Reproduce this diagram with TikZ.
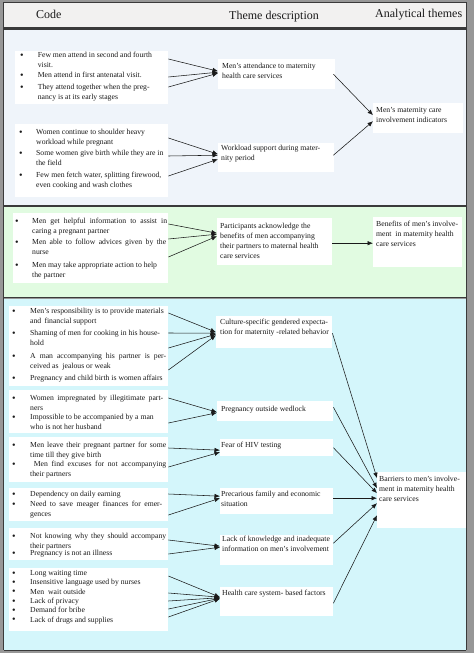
\documentclass[tikz,border=0pt]{standalone}
\usepackage{fontspec}
\setmainfont{Liberation Serif}
\usetikzlibrary{arrows.meta}
\definecolor{framegray}{HTML}{979797}
\definecolor{darkline}{HTML}{3A3A3A}
\definecolor{headbg}{HTML}{F2F1F0}
\definecolor{secone}{HTML}{EFF4FA}
\definecolor{sectwo}{HTML}{E1FBE1}
\definecolor{secthree}{HTML}{D4F6FB}
\definecolor{ink}{HTML}{1A1A1A}
\newcommand{\bul}[2]{\makebox[#1pt][l]{\raisebox{-0.4pt}{\fontsize{10}{10}\selectfont\textbullet}}\begin{tabular}[t]{@{}l@{}}#2\end{tabular}}
\newcommand{\jl}[2]{\makebox[#1pt][s]{#2}}
\newcommand{\tl}[1]{\begin{tabular}[t]{@{}l@{}}#1\end{tabular}}
\newcommand{\wbox}[5]{\node[wb, anchor=north west, minimum width=#4pt, minimum height=#5pt] (#1) at (#2,#3) {};}
\begin{document}
\begin{tikzpicture}[x=1pt,y=-1pt,
  wb/.style={fill=white, draw=none, inner sep=0pt},
  itm/.style={inner sep=0pt, anchor=base west, text=ink, font=\fontsize{7.7}{9.5}\selectfont},
  thm/.style={inner sep=0pt, anchor=base west, text=ink, font=\fontsize{7.7}{9.9}\selectfont},
  hdr/.style={inner sep=0pt, anchor=base west, text=ink, font=\fontsize{12}{14}\selectfont},
  arr/.style={draw=ink, line width=0.55pt, -{Latex[length=5.5pt,width=4.5pt]}},
  panel/.style={draw=darkline, line width=1.2pt}]
\useasboundingbox (0,0) rectangle (474,653);
\fill[framegray] (0,0) rectangle (474,653);
% panels
\fill[headbg] (4,3) rectangle (466,28);
\draw[darkline, line width=2.2pt] (4,28.5) -- (466,28.5);
\fill[secone] (4,30) rectangle (466,205);
\draw[darkline, line width=1.8pt] (4,206) -- (466,206);
\fill[sectwo] (4,207) rectangle (466,296.5);
\draw[darkline, line width=1.8pt] (4,297.5) -- (466,297.5);
\fill[secthree] (4,298.5) rectangle (466,649.5);
\draw[darkline, line width=1pt] (4,650) -- (466,650);
\draw[darkline, line width=0.8pt] (466.4,2) -- (466.4,650);
\draw[darkline, line width=0.8pt] (3.6,2) -- (3.6,650);
\draw[darkline, line width=0.8pt] (3.6,2.5) -- (466.4,2.5);
% header
\node[hdr] (h1) at (36,19) {Code};
\node[hdr] (h2) at (229,19.5) {Theme description};
\node[hdr] (h3) at (375,17) {Analytical themes};

% ---------- section 1 ----------
\wbox{c1}{15}{51}{153}{53}
\wbox{c2}{15}{124}{153}{73}
\wbox{t1}{218}{59}{117}{30}
\wbox{t2}{218}{143}{116}{29}
\wbox{a1}{373}{103}{90}{30}
\node[itm] (i11) at (20,57.8) {\bul{17.6}{Few men attend in second and fourth\\visit.}};
\node[itm] (i12) at (20,77.8) {\bul{17.6}{Men attend in first antenatal visit.}};
\node[itm] (i13) at (20,89.8) {\bul{17.6}{They attend together when the preg-\\nancy is at its early stages}};
\node[itm] (i21) at (19,134.8) {\bul{17}{Women continue to shoulder heavy\\workload while pregnant}};
\node[itm] (i22) at (19,155.8) {\bul{17}{Some women give birth while they are in\\the field}};
\node[itm] (i23) at (19,177.8) {\bul{17}{Few men fetch water, splitting firewood,\\even cooking and wash clothes}};
\node[thm] (x1) at (222,68.8) {\tl{Men's attendance to maternity\\health care services}};
\node[thm] (x2) at (221,150.8) {\tl{Workload support during mater-\\nity period}};
\node[thm] (y1) at (376,112.8) {\tl{Men's maternity care\\involvement indicators}};
\draw[arr] ([yshift=-8pt]c1.north east) -- ([yshift=3pt]t1.west);
\draw[arr] ([yshift=-26pt]c1.north east) -- ([yshift=2pt]t1.west);
\draw[arr] ([yshift=-36pt]c1.north east) -- ([yshift=1pt]t1.west);
\draw[arr] ([yshift=-14pt]c2.north east) -- ([yshift=3.5pt]t2.west);
\draw[arr] ([yshift=-32pt]c2.north east) -- ([yshift=2.5pt]t2.west);
\draw[arr] ([yshift=-52pt]c2.north east) -- ([yshift=-1.5pt]t2.west);
\draw[arr] ([xshift=-2pt]t1.east) -- ([yshift=3pt]a1.west);
\draw[arr] ([xshift=-1pt,yshift=2.5pt]t2.east) -- ([yshift=-3pt]a1.west);

% ---------- section 2 ----------
\wbox{c3}{13}{213}{155}{70}
\wbox{t3}{217}{218}{115}{47}
\wbox{a2}{373}{217}{89}{50}
\node[itm] (i31) at (15,223.8) {\bul{17}{\jl{135}{Men get helpful information to assist in}\\caring a pregnant partner}};
\node[itm] (i32) at (15,244.8) {\bul{17}{\jl{134}{Men able to follow advices given by the}\\nurse}};
\node[itm] (i33) at (15,267.8) {\bul{17}{Men may take appropriate action to help\\the partner}};
\node[thm] (x3) at (220,228.8) {\tl{Participants acknowledge the\\benefits of men accompanying\\their partners to maternal health\\care services}};
\node[thm] (y2) at (376,226.8) {\tl{Benefits of men's involve-\\ment\ \ in maternity health\\care services}};
\draw[arr] ([yshift=-11pt]c3.north east) -- ([yshift=8.5pt]t3.west);
\draw[arr] ([yshift=-26pt]c3.north east) -- ([yshift=7.5pt]t3.west);
\draw[arr] ([yshift=-44pt]c3.north east) -- ([yshift=5.5pt]t3.west);
\draw[arr] ([yshift=-1.5pt]t3.east) -- ([yshift=-1pt]a2.west);

% ---------- section 3 ----------
\wbox{cA}{9}{306}{159}{80}
\wbox{cB}{9}{390}{159}{43}
\wbox{cC}{9}{437}{159}{45}
\wbox{cD}{9}{488}{159}{33}
\wbox{cE}{9}{528}{159}{32}
\wbox{cF}{9}{568}{159}{63}
\wbox{tA}{216}{316}{116}{32}
\wbox{tB}{217}{401}{116}{20}
\wbox{tC}{220}{439}{113}{17}
\wbox{tD}{220}{488}{113}{26}
\wbox{tE}{220}{535}{113}{30}
\wbox{tF}{220}{587}{113}{29}
\wbox{a3}{377}{472}{89}{56}
\node[itm] (iA1) at (12,313.8) {\bul{18}{Men's responsibility is to provide materials\\and\ \,financial support}};
\node[itm] (iA2) at (12,335.8) {\bul{18}{Shaming of men for cooking in his house-\\hold}};
\node[itm] (iA3) at (12,358.8) {\bul{18}{\jl{136}{A man accompanying his partner is per-}\\ceived as\ \ jealous or weak}};
\node[itm] (iA4) at (12,380.8) {\bul{18}{Pregnancy and child birth is women affairs}};
\node[itm] (iB1) at (12,400.8) {\bul{18}{\jl{133}{Women impregnated by illegitimate part-}\\ners}};
\node[itm] (iB2) at (12,419.8) {\bul{18}{Impossible to be accompanied by a man\\who is not her husband}};
\node[itm] (iC1) at (12,447.8) {\bul{18}{\jl{136}{Men leave their pregnant partner for some}\\time till they give birth}};
\node[itm] (iC2) at (12,466.8) {\bul{18}{\jl{136}{\ Men find excuses for not accompanying}\\their partners}};
\node[itm] (iD1) at (12,496.8) {\bul{18}{Dependency on daily earning}};
\node[itm] (iD2) at (12,506.8) {\bul{18}{\jl{132}{Need to save meager finances for emer-}\\gences}};
\node[itm] (iE1) at (12,538.8) {\bul{18}{\jl{136}{Not knowing why they should accompany}\\their partners}};
\node[itm] (iE2) at (12,555.8) {\bul{18}{Pregnancy is not an illness}};
\node[itm] (iF1) at (12,575.8) {\bul{18}{Long waiting time}};
\node[itm] (iF2) at (12,584.8) {\bul{18}{Insensitive language used by nurses}};
\node[itm] (iF3) at (12,594.3) {\bul{18}{Men\ \ wait outside}};
\node[itm] (iF4) at (12,603.8) {\bul{18}{Lack of privacy}};
\node[itm] (iF5) at (12,612.8) {\bul{18}{Demand for bribe}};
\node[itm] (iF6) at (12,622.3) {\bul{18}{Lack of drugs and supplies}};
\node[thm] (xA) at (220,324.8) {\tl{Culture-specific gendered expecta-\\tion for maternity -related behavior}};
\node[thm] (xB) at (221,411.8) {Pregnancy outside wedlock};
\node[thm] (xC) at (221,447.8) {Fear of HIV testing};
\node[thm] (xD) at (221,496.8) {\tl{Precarious family and economic\\situation}};
\node[thm] (xE) at (222,541.8) {\tl{Lack of knowledge and inadequate\\information on men's involvement}};
\node[thm] (xF) at (222,595.8) {Health care system- based factors};
\node[thm] (y3) at (379,481.8) {\tl{Barriers to men's involve-\\ment in maternity health\\care services}};
% code -> theme
\draw[arr] ([yshift=-7pt]cA.north east) -- ([yshift=0pt]tA.west);
\draw[arr] ([yshift=-27pt]cA.north east) -- ([yshift=-1pt]tA.west);
\draw[arr] ([yshift=-42pt]cA.north east) -- ([yshift=-2pt]tA.west);
\draw[arr] ([yshift=-64pt]cA.north east) -- ([yshift=-3pt]tA.west);
\draw[arr] ([yshift=-8pt]cB.north east) -- ([yshift=-1pt]tB.west);
\draw[arr] ([yshift=-33pt]cB.north east) -- ([yshift=-1.5pt]tB.west);
\draw[arr] ([yshift=-11pt]cC.north east) -- ([yshift=-2.5pt]tC.west);
\draw[arr] ([yshift=-30pt]cC.north east) -- ([yshift=-4.5pt]tC.west);
\draw[arr] ([yshift=-6pt]cD.north east) -- ([yshift=5pt]tD.west);
\draw[arr] ([yshift=-27pt]cD.north east) -- ([yshift=3pt]tD.west);
\draw[arr] ([yshift=-12pt]cE.north east) -- ([yshift=4pt]tE.west);
\draw[arr] ([yshift=-26pt]cE.north east) -- ([yshift=3pt]tE.west);
\draw[arr] ([yshift=-8pt]cF.north east) -- ([yshift=4.5pt]tF.west);
\draw[arr] ([yshift=-25pt]cF.north east) -- ([yshift=4.5pt]tF.west);
\draw[arr] ([yshift=-33pt]cF.north east) -- ([yshift=4pt]tF.west);
\draw[arr] ([yshift=-41pt]cF.north east) -- ([yshift=3.5pt]tF.west);
\draw[arr] ([yshift=-49pt]cF.north east) -- ([yshift=3pt]tF.west);
% theme -> analytical
\draw[arr] ([yshift=-1pt]tA.east) -- ([yshift=22pt]a3.west);
\draw[arr] ([yshift=4pt]tB.east) -- ([yshift=12pt]a3.west);
\draw[arr] (tC.east) -- ([yshift=7pt]a3.west);
\draw[arr] ([yshift=3pt]tD.east) -- ([yshift=2pt]a3.west);
\draw[arr] ([yshift=7pt]tE.east) -- ([yshift=-3pt]a3.west);
\draw[arr] ([yshift=-1.5pt]tF.east) -- ([yshift=-15pt]a3.west);
\end{tikzpicture}
\end{document}
